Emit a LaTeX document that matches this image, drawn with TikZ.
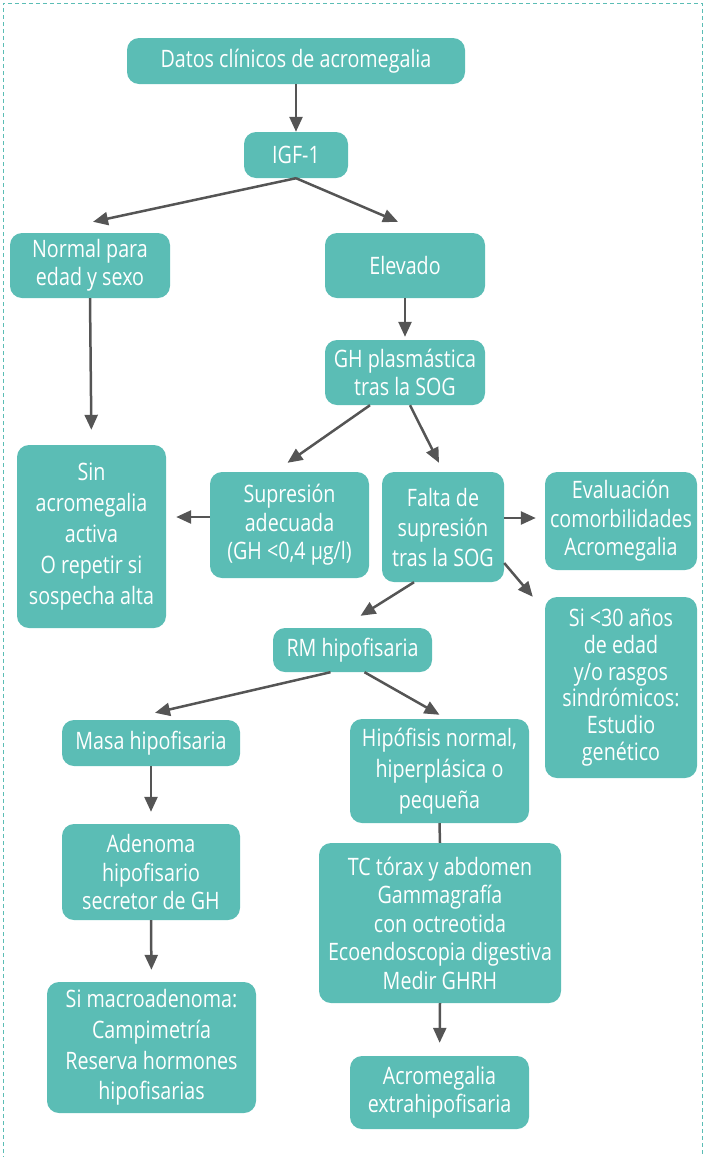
\documentclass[tikz,border=0pt]{standalone}
\usepackage{fontspec}
\setmainfont[FakeStretch=0.82]{Open Sans}
\usetikzlibrary{arrows.meta}
\definecolor{boxfill}{HTML}{5BBDB5}
\definecolor{arrowgray}{HTML}{555555}
\definecolor{framecol}{HTML}{5BBDB5}
\begin{document}
\begin{tikzpicture}[x=1pt,y=-1pt,
  box/.style={fill=boxfill, rounded corners=12pt, text=white, align=center,
    font=\fontsize{24}{28.5}\selectfont, inner sep=0pt},
  airy/.style={font=\fontsize{24}{30.8}\selectfont},
  arr/.style={draw=arrowgray, line width=2.5pt, -{Triangle[length=15pt,width=13pt]}},
  link/.style={draw=arrowgray, line width=2.5pt}]
\useasboundingbox (0,0) rectangle (707,1157);
% dashed frame (open at the bottom)
\draw[framecol, line width=1pt, dash pattern=on 4pt off 3pt]
  (3,1160) -- (3,3) -- (702,3) -- (702,1160);

% boxes
\node[box, minimum width=338pt, minimum height=46pt] (datos) at (296,61) {Datos clínicos de acromegalia};
\node[box, minimum width=104pt, minimum height=46pt] (igf) at (296,155) {IGF-1};
\node[box, minimum width=160pt, minimum height=65pt] (normal) at (90,265.5) {Normal para\\edad y sexo};
\node[box, minimum width=160pt, minimum height=65pt] (elev) at (405,265.5) {Elevado};
\node[box, minimum width=160pt, minimum height=65pt] (gh) at (405,372.5) {GH plasmástica\\tras la SOG};
\node[box, airy, minimum width=149pt, minimum height=183pt] (sin) at (91.5,536.5) {Sin\\acromegalia\\activa\\O repetir si\\sospecha alta};
\node[box, minimum width=159pt, minimum height=106pt] (sup) at (289.5,525) {Supresión\\adecuada\\(GH <0,4 μg/l)};
\node[box, font=\fontsize{24}{30}\selectfont, minimum width=122pt, minimum height=110pt] (falta) at (443,527) {Falta de\\supresión\\tras la SOG};
\node[box, minimum width=152pt, minimum height=98pt] (eval) at (621,521) {Evaluación\\comorbilidades\\Acromegalia};
\node[box, minimum width=152pt, minimum height=181pt, font=\fontsize{24}{26.7}\selectfont] (si30) at (621,687.5) {Si <30 años\\de edad\\y/o rasgos\\sindrómicos:\\Estudio\\genético};
\node[box, minimum width=159pt, minimum height=44pt] (rm) at (352.5,650) {RM hipofisaria};
\node[box, minimum width=178pt, minimum height=46pt] (masa) at (151,743) {Masa hipofisaria};
\node[box, airy, minimum width=179pt, minimum height=104pt] (hipo) at (439.5,771) {Hipófisis normal,\\hiperplásica o\\pequeña};
\node[box, minimum width=178pt, minimum height=96pt] (aden) at (151,872) {Adenoma\\hipofisario\\secretor de GH};
\node[box, minimum width=242pt, minimum height=160pt] (tc) at (440,923) {TC tórax y abdomen\\Gammagrafía\\con octreotida\\Ecoendoscopia digestiva\\Medir GHRH};
\node[box, airy, minimum width=209pt, minimum height=131pt] (macro) at (151.5,1047.5) {Si macroadenoma:\\Campimetría\\Reserva hormones\\hipofisarias};
\node[box, minimum width=179pt, minimum height=73pt] (extra) at (439.5,1092.5) {Acromegalia\\extrahipofisaria};

% connectors
\draw[arr] (datos.south) -- (igf.north);
\draw[arr] (igf.south) -- ([xshift=3pt,yshift=11pt]normal.north);
\draw[arr] (igf.south) -- ([xshift=-7pt,yshift=11pt]elev.north);
\draw[arr, shorten >=3pt] (elev.south) -- (gh.north);
\draw[arr, shorten >=15pt] (normal.south) -- (sin.north);
\draw[arr] ([xshift=-35pt]gh.south) -- ([xshift=-2pt,yshift=9pt]sup.north);
\draw[arr] ([xshift=5pt]gh.south) -- ([xshift=-4pt,yshift=9pt]falta.north);
\path ([yshift=8pt]sup.west) coordinate (supw);
\draw[arr, shorten >=10pt] (supw) -- (supw -| sin.east);
\path ([yshift=9pt]falta.east) coordinate (faltae);
\draw[arr, shorten >=9pt] (faltae) -- (faltae -| eval.west);
\draw[arr] ([yshift=-36pt]falta.east) -- ([xshift=-12pt]si30.north west);
\draw[arr] ([xshift=-29pt]falta.south) -- ([xshift=8pt,yshift=12pt]rm.north);
\draw[arr] ([xshift=-22pt]rm.south) -- ([xshift=4pt,yshift=7pt]masa.north);
\draw[arr] ([xshift=12pt]rm.south) -- ([yshift=4pt]hipo.north);
\draw[arr, shorten >=12pt] (masa.south) -- (aden.north);
\draw[arr, shorten >=12pt] (aden.south) -- (macro.north);
\draw[link] (hipo.south) -- (tc.north);
\draw[arr, shorten >=13pt] (tc.south) -- (extra.north);
\end{tikzpicture}
\end{document}
